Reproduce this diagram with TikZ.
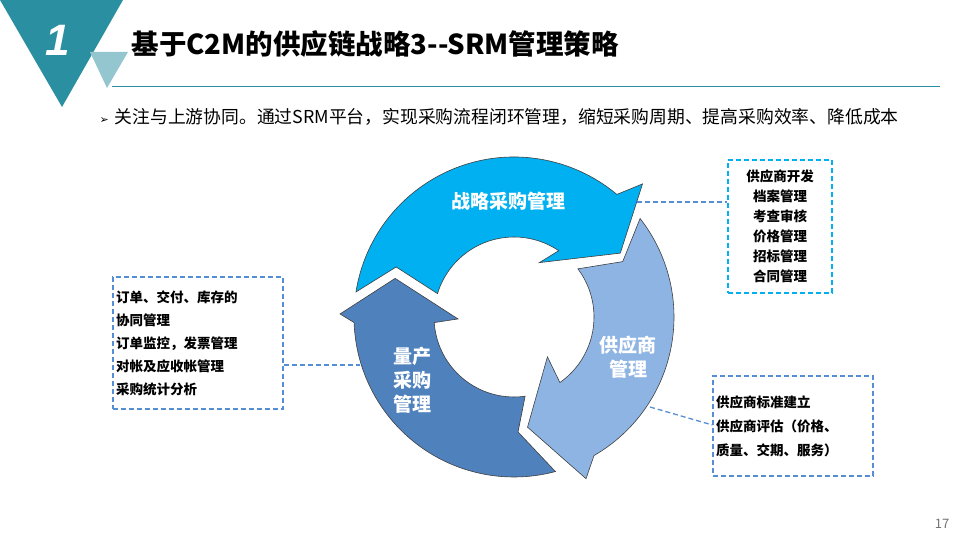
\documentclass[tikz,border=0pt]{standalone}
\usepackage{fontspec}
\setmainfont{Noto Sans CJK SC}
\newfontfamily\dejavu{DejaVu Sans}
\newfontfamily\libsans{Liberation Sans}
\begin{document}
\begin{tikzpicture}[x=1pt,y=1pt,
  arr/.style={draw=black!75,line width=0.6pt},
  dbox/.style={draw,dashed,dash pattern=on 5pt off 3pt,line width=1.3pt},
  conn/.style={draw=cDash,dash pattern=on 5pt off 3pt,line width=1.3pt},
  lbl/.style={text=white,font=\bfseries\fontsize{19}{24}\selectfont,align=center},
  btxt/.style={font=\bfseries\fontsize{13.5}{20}\selectfont,text=black}]
\definecolor{teal1}{HTML}{2A8FA0}
\definecolor{teal2}{HTML}{93C6CE}
\definecolor{cTop}{HTML}{00B0F0}
\definecolor{cLight}{HTML}{8EB4E3}
\definecolor{cDark}{HTML}{4F81BD}
\definecolor{cDash}{HTML}{558ED5}
\useasboundingbox (0,0) rectangle (960,540);
\fill[white] (0,0) rectangle (960,540);
% header
\fill[teal1] (0,540) -- (123,540) -- (62,433) -- cycle;
\fill[teal2] (90,488) -- (128,488) -- (107,452) -- cycle;
\node[text=white,font=\libsans\bfseries\itshape\fontsize{44}{44}\selectfont] (one) at (58,500) {1};
\node[anchor=west,font=\bfseries\fontsize{27.5}{30}\selectfont] (title) at (128,496) {基于C2M的供应链战略3{-}{-}SRM管理策略};
\draw[teal1,line width=1pt] (112,453) -- (940,453);
\node[anchor=west,font=\fontsize{17.8}{20}\selectfont] (bul) at (96,423) {{\dejavu\fontsize{11}{12}\selectfont ➢}\hspace{6pt}关注与上游协同。通过SRM平台，实现采购流程闭环管理，缩短采购周期、提高采购效率、降低成本};
% cycle
\begin{scope}[shift={(514,223)}]
\fill[cTop,arr] (171:160) arc[start angle=171,end angle=50,radius=160] -- (46:185) -- (31:124) -- (65:60) -- (56:80) arc[start angle=56,end angle=163,radius=80] -- (157:128) -- cycle;
\fill[cLight,arr] (38:160) arc[start angle=38,end angle=-60,radius=160] -- (-66:177) -- (-83:111) -- (-50:52) -- (-55:80) arc[start angle=-55,end angle=37,radius=80] -- (27:122) -- cycle;
\fill[cDark,arr] (285:160) arc[start angle=285,end angle=182,radius=160] -- (179:174) -- (162:125) -- (182:56) -- (184:80) arc[start angle=184,end angle=278,radius=80] -- (272:115) -- cycle;
\end{scope}
\node[lbl] (l1) at (508,339) {战略采购管理};
\node[lbl] (l2) at (628,183) {供应商\\管理};
\node[lbl] (l3) at (412,160) {量产\\采购\\管理};
% boxes
\node[dbox,draw=cTop,minimum width=104pt,minimum height=133pt,btxt,align=center,inner sep=0pt] (b1) at (780,313.5) {供应商开发\\档案管理\\考查审核\\价格管理\\招标管理\\合同管理};
\node[dbox,draw=cDash,minimum width=170pt,minimum height=132pt,btxt,align=left,inner sep=0pt,font=\bfseries\fontsize{13.5}{23}\selectfont] (b2) at (198,197) {\parbox{164pt}{订单、交付、库存的\\协同管理\\订单监控，发票管理\\对帐及应收帐管理\\采购统计分析}};
\node[dbox,draw=cDash,minimum width=160pt,minimum height=100pt,btxt,inner sep=0pt,font=\bfseries\fontsize{13.5}{24}\selectfont] (b3) at (793,114) {\parbox{154pt}{供应商标准建立\\供应商评估（价格、\\质量、交期、服务）}};
\coordinate (c1) at (637,338);
\coordinate (c2) at (360,175);
\coordinate (c3) at (650,133);
\draw[conn] (c1) -- (c1 -| b1.west);
\draw[conn] (b2.east |- c2) -- (c2);
\draw[conn] (c3) -- (b3.west |- 0,115);
\node[text=black!55,font=\fontsize{13}{14}\selectfont] (pg) at (942,16) {17};
\end{tikzpicture}
\end{document}
